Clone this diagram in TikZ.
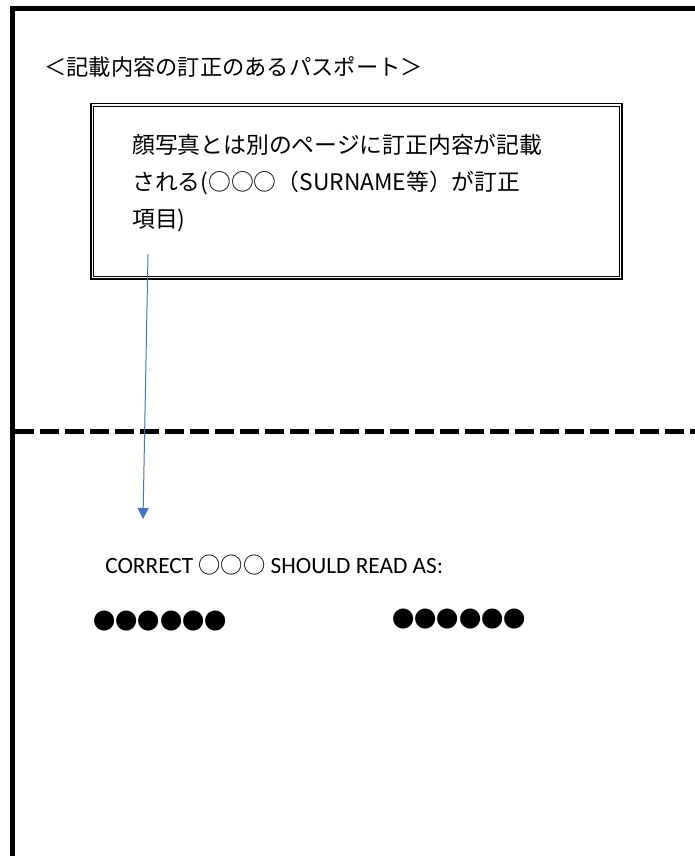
\documentclass[tikz,border=0pt]{standalone}
\usepackage{fontspec}
\setmainfont{Carlito}
\newfontfamily\jpfont{Noto Sans CJK JP}
\usetikzlibrary{arrows.meta}

\begin{document}
\begin{tikzpicture}[x=0.75pt, y=-0.75pt,
    frameline/.style={black, line width=3.75pt},
    notebox/.style={draw=black, line width=0.9pt, double=white, double distance=1.2pt, minimum width=396.2pt, minimum height=129.6pt, inner sep=0pt},
    jptext/.style={font=\jpfont\fontsize{16.7}{20}\selectfont, anchor=west, inner sep=0pt},
    notetext/.style={font=\jpfont\fontsize{17.1}{20}\selectfont, anchor=west, inner sep=0pt},
    entext/.style={font=\fontsize{17.5}{20}\selectfont, anchor=west, inner sep=0pt},
    fixarrow/.style={draw={rgb,255:red,68;green,114;blue,196}, line width=0.75pt, -{Triangle[length=8.25pt, width=8.25pt]}}]
      \useasboundingbox (0,0) rectangle (695,856);
      %
      \draw [frameline] (12.5,856) -- (12.5,8.5) -- (695,8.5);
      \draw [black, line width=3.75pt, dash pattern=on 14.25pt off 4.5pt] (15,431.5) -- (695,431.5);
      %
      \node [jptext] (title) at (44,67) {＜記載内容の訂正のあるパスポート＞};
      %
      \node [notebox] (box) at (356.5,191.1) {};
      \node [notetext] (noteone) at (132,145) {顔写真とは別のページに訂正内容が記載};
      \node [notetext] (notetwo) at (132,183) {される(○○○（SURNAME等）が訂正};
      \node [notetext] (notethree) at (132,220) {項目)};
      %
      \coordinate (arrowtop) at (148,254);
      \coordinate (arrowtip) at (143,519);
      \draw [fixarrow] (arrowtop) -- (arrowtip);
      %
      \node [entext] (correct) at (105,565) {CORRECT {\jpfont\fontsize{16.7}{20}\selectfont ○○○} SHOULD READ AS:};
      \node [jptext] (dotsleft) at (93,621) {●●●●●●};
      \node [jptext] (dotsright) at (392,619) {●●●●●●};
      %
\end{tikzpicture}
\end{document}
